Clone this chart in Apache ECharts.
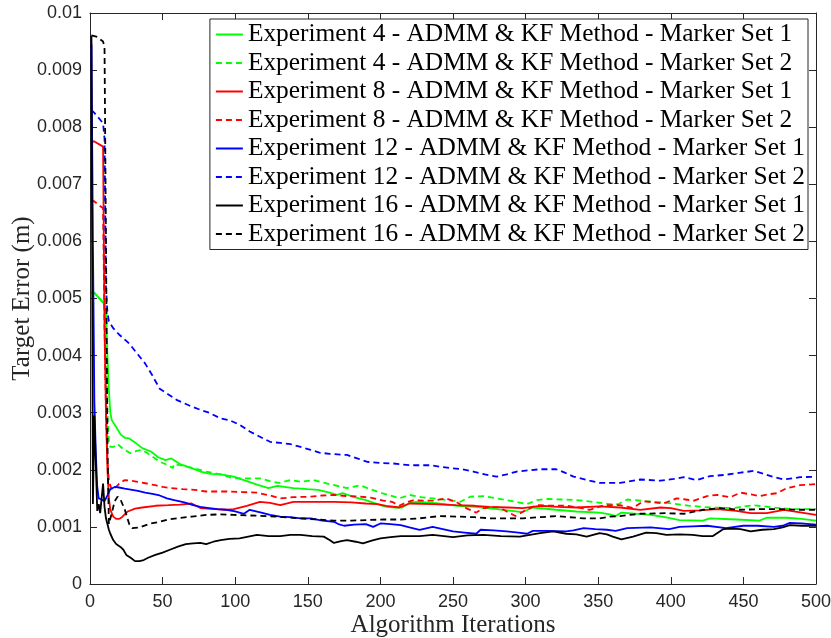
<!DOCTYPE html>
<html>
<head>
<meta charset="utf-8">
<script src="https://cdn.jsdelivr.net/npm/echarts@6/dist/echarts.min.js"></script>
<style>
  html, body { margin: 0; padding: 0; background: #ffffff; }
  #chart { width: 831px; height: 638px; }
</style>
</head>
<body>
<div id="chart"></div>
<script>
// Target error (m) against algorithm iteration, [iteration, error] pairs per run.
const exp4Set1 = [[1,0.00510],[3,0.00510],[10,0.00490],[11,0.00480],[12,0.00400],[13,0.00340],[14,0.00300],[15,0.00287],[18,0.00275],[21,0.00262],[24,0.00256],[27,0.00255],[31,0.00248],[36,0.00238],[42,0.00232],[47,0.00222],[52,0.00217],[56,0.00220],[62,0.00210],[70,0.00203],[76,0.00197],[83,0.00193],[90,0.00192],[99,0.00188],[106,0.00182],[115,0.00174],[123,0.00168],[129,0.00172],[140,0.00168],[150,0.00166],[157,0.00165],[165,0.00160],[170,0.00156],[174,0.00159],[182,0.00152],[190,0.00147],[198,0.00140],[204,0.00135],[210,0.00134],[215,0.00134],[221,0.00143],[227,0.00144],[240,0.00141],[253,0.00137],[265,0.00135],[280,0.00131],[298,0.00126],[305,0.00134],[321,0.00130],[335,0.00127],[351,0.00125],[358,0.00122],[362,0.00119],[366,0.00125],[386,0.00121],[396,0.00117],[406,0.00112],[422,0.00111],[427,0.00115],[445,0.00113],[461,0.00111],[466,0.00116],[480,0.00116],[490,0.00114],[500,0.00111]];

const exp4Set2 = [[1,0.00510],[3,0.00510],[10,0.00490],[11,0.00460],[12,0.00300],[13,0.00250],[14,0.00240],[16,0.00240],[19,0.00245],[23,0.00236],[28,0.00229],[32,0.00233],[36,0.00235],[42,0.00225],[48,0.00214],[54,0.00208],[57,0.00203],[58,0.00210],[64,0.00207],[71,0.00203],[80,0.00197],[88,0.00193],[99,0.00185],[108,0.00185],[117,0.00185],[124,0.00180],[130,0.00177],[138,0.00182],[145,0.00179],[154,0.00182],[165,0.00175],[177,0.00168],[186,0.00173],[193,0.00166],[201,0.00159],[207,0.00155],[213,0.00150],[220,0.00156],[228,0.00152],[236,0.00150],[246,0.00147],[255,0.00144],[262,0.00153],[271,0.00154],[280,0.00150],[287,0.00147],[295,0.00143],[301,0.00140],[308,0.00147],[315,0.00149],[325,0.00148],[335,0.00147],[346,0.00144],[358,0.00140],[364,0.00140],[370,0.00148],[383,0.00145],[397,0.00142],[413,0.00137],[427,0.00134],[443,0.00133],[457,0.00138],[471,0.00134],[484,0.00131],[500,0.00131]];

const exp8Set1 = [[1,0.00775],[3,0.00775],[9,0.00766],[10,0.00450],[11,0.00300],[12,0.00200],[13,0.00150],[14,0.00130],[16,0.00118],[18,0.00114],[20,0.00114],[22,0.00117],[26,0.00127],[31,0.00132],[36,0.00134],[45,0.00137],[54,0.00138],[62,0.00139],[70,0.00141],[76,0.00133],[86,0.00131],[94,0.00130],[99,0.00131],[108,0.00137],[117,0.00144],[124,0.00142],[131,0.00138],[140,0.00144],[155,0.00144],[168,0.00144],[180,0.00143],[190,0.00141],[198,0.00140],[204,0.00137],[213,0.00134],[220,0.00141],[236,0.00140],[252,0.00138],[265,0.00137],[275,0.00135],[288,0.00134],[298,0.00133],[310,0.00137],[322,0.00135],[335,0.00134],[351,0.00136],[365,0.00134],[379,0.00130],[393,0.00134],[400,0.00133],[409,0.00128],[420,0.00129],[432,0.00131],[445,0.00128],[455,0.00124],[466,0.00124],[478,0.00130],[488,0.00126],[500,0.00121]];

const exp8Set2 = [[1,0.00672],[3,0.00670],[9,0.00658],[10,0.00450],[11,0.00300],[12,0.00220],[13,0.00180],[15,0.00165],[18,0.00170],[21,0.00178],[24,0.00182],[28,0.00181],[33,0.00179],[39,0.00176],[45,0.00173],[50,0.00170],[56,0.00168],[64,0.00166],[72,0.00165],[80,0.00162],[94,0.00162],[105,0.00161],[115,0.00160],[124,0.00155],[131,0.00150],[140,0.00152],[152,0.00153],[160,0.00155],[168,0.00156],[177,0.00154],[186,0.00153],[194,0.00151],[202,0.00146],[208,0.00144],[213,0.00137],[218,0.00143],[223,0.00147],[230,0.00146],[237,0.00146],[245,0.00150],[252,0.00144],[259,0.00133],[266,0.00125],[270,0.00132],[276,0.00135],[282,0.00134],[287,0.00127],[293,0.00119],[301,0.00131],[308,0.00138],[318,0.00137],[328,0.00137],[336,0.00134],[344,0.00130],[354,0.00138],[365,0.00138],[374,0.00133],[381,0.00145],[388,0.00143],[395,0.00141],[404,0.00150],[410,0.00148],[416,0.00146],[425,0.00154],[432,0.00156],[441,0.00152],[448,0.00160],[455,0.00157],[461,0.00154],[467,0.00157],[473,0.00159],[480,0.00168],[489,0.00173],[500,0.00175]];

const exp12Set1 = [[1,0.00945],[2,0.00600],[3,0.00320],[4,0.00230],[5,0.00170],[6,0.00150],[8,0.00148],[10,0.00145],[12,0.00155],[14,0.00166],[17,0.00170],[20,0.00169],[24,0.00167],[29,0.00165],[33,0.00163],[38,0.00160],[43,0.00158],[48,0.00155],[53,0.00150],[58,0.00147],[65,0.00143],[71,0.00138],[76,0.00135],[82,0.00133],[88,0.00131],[94,0.00130],[100,0.00127],[106,0.00123],[110,0.00130],[118,0.00125],[124,0.00121],[131,0.00118],[138,0.00117],[145,0.00115],[152,0.00115],[160,0.00111],[168,0.00109],[171,0.00105],[175,0.00102],[182,0.00104],[190,0.00105],[195,0.00100],[200,0.00106],[207,0.00105],[214,0.00103],[220,0.00099],[227,0.00095],[236,0.00100],[243,0.00096],[250,0.00092],[258,0.00090],[266,0.00088],[269,0.00095],[278,0.00094],[287,0.00092],[295,0.00090],[301,0.00088],[305,0.00093],[315,0.00093],[328,0.00092],[333,0.00094],[340,0.00098],[348,0.00096],[356,0.00095],[362,0.00093],[370,0.00098],[386,0.00099],[399,0.00096],[406,0.00100],[415,0.00101],[425,0.00102],[438,0.00098],[450,0.00102],[460,0.00102],[471,0.00100],[477,0.00102],[482,0.00107],[490,0.00106],[500,0.00104]];

const exp12Set2 = [[1,0.00830],[3,0.00825],[9,0.00807],[10,0.00780],[11,0.00520],[12,0.00475],[13,0.00460],[16,0.00448],[20,0.00437],[24,0.00428],[27,0.00421],[33,0.00402],[38,0.00386],[43,0.00365],[48,0.00342],[54,0.00332],[60,0.00322],[68,0.00313],[76,0.00305],[82,0.00300],[90,0.00290],[96,0.00287],[103,0.00279],[110,0.00267],[117,0.00258],[124,0.00249],[131,0.00247],[138,0.00245],[145,0.00240],[152,0.00235],[158,0.00230],[165,0.00228],[177,0.00226],[184,0.00220],[191,0.00214],[200,0.00212],[209,0.00211],[220,0.00208],[234,0.00208],[248,0.00203],[256,0.00201],[264,0.00197],[272,0.00192],[280,0.00188],[287,0.00192],[294,0.00197],[302,0.00199],[310,0.00201],[321,0.00201],[327,0.00195],[333,0.00188],[344,0.00181],[351,0.00177],[365,0.00177],[379,0.00183],[393,0.00181],[402,0.00184],[409,0.00187],[418,0.00182],[427,0.00189],[437,0.00191],[448,0.00195],[457,0.00198],[464,0.00193],[470,0.00188],[478,0.00183],[489,0.00187],[500,0.00188]];

const exp16Set1 = [[1,0.00960],[2,0.00140],[3,0.00295],[4,0.00210],[5,0.00128],[6,0.00140],[7,0.00124],[8,0.00150],[9,0.00176],[10,0.00135],[11,0.00115],[12,0.00105],[13,0.00095],[14,0.00088],[16,0.00077],[18,0.00070],[21,0.00065],[23,0.00060],[25,0.00051],[28,0.00046],[31,0.00040],[34,0.00040],[37,0.00042],[40,0.00046],[45,0.00051],[50,0.00055],[55,0.00060],[61,0.00066],[66,0.00070],[71,0.00071],[76,0.00072],[80,0.00070],[85,0.00074],[90,0.00077],[96,0.00079],[103,0.00080],[109,0.00083],[115,0.00086],[123,0.00084],[131,0.00084],[138,0.00086],[145,0.00086],[153,0.00084],[161,0.00083],[165,0.00077],[168,0.00072],[173,0.00075],[177,0.00077],[183,0.00074],[188,0.00071],[194,0.00076],[200,0.00080],[207,0.00082],[214,0.00084],[227,0.00084],[236,0.00086],[250,0.00082],[260,0.00085],[271,0.00086],[283,0.00084],[296,0.00083],[303,0.00086],[310,0.00089],[319,0.00092],[328,0.00088],[335,0.00087],[342,0.00083],[351,0.00089],[356,0.00087],[360,0.00083],[366,0.00078],[374,0.00083],[383,0.00090],[390,0.00089],[397,0.00086],[406,0.00087],[415,0.00086],[422,0.00084],[429,0.00084],[436,0.00096],[442,0.00097],[448,0.00096],[455,0.00092],[463,0.00095],[471,0.00096],[477,0.00099],[482,0.00103],[490,0.00102],[500,0.00102]];

const exp16Set2 = [[1,0.00961],[5,0.00958],[9,0.00950],[10,0.00940],[11,0.00600],[12,0.00250],[13,0.00105],[15,0.00124],[17,0.00145],[19,0.00153],[21,0.00148],[24,0.00130],[27,0.00105],[29,0.00098],[34,0.00099],[42,0.00106],[48,0.00109],[54,0.00113],[60,0.00115],[70,0.00118],[80,0.00121],[90,0.00122],[99,0.00121],[110,0.00120],[122,0.00119],[133,0.00117],[145,0.00115],[156,0.00113],[168,0.00111],[180,0.00111],[191,0.00112],[202,0.00113],[214,0.00113],[227,0.00115],[241,0.00119],[253,0.00118],[265,0.00117],[276,0.00115],[287,0.00115],[298,0.00115],[310,0.00117],[321,0.00119],[330,0.00117],[340,0.00115],[351,0.00115],[358,0.00118],[365,0.00119],[379,0.00123],[397,0.00124],[409,0.00123],[422,0.00130],[434,0.00133],[448,0.00130],[461,0.00131],[478,0.00131],[489,0.00130],[500,0.00130]];

const seriesNames = [
  'Experiment 4 - ADMM & KF Method - Marker Set 1',
  'Experiment 4 - ADMM & KF Method - Marker Set 2',
  'Experiment 8 - ADMM & KF Method - Marker Set 1',
  'Experiment 8 - ADMM & KF Method - Marker Set 2',
  'Experiment 12 - ADMM & KF Method - Marker Set 1',
  'Experiment 12 - ADMM & KF Method - Marker Set 2',
  'Experiment 16 - ADMM & KF Method - Marker Set 1',
  'Experiment 16 - ADMM & KF Method - Marker Set 2'
];
const seriesData = [exp4Set1, exp4Set2, exp8Set1, exp8Set2, exp12Set1, exp12Set2, exp16Set1, exp16Set2];
const seriesColors = ['#00ff00', '#00ff00', '#ff0000', '#ff0000', '#0000ff', '#0000ff', '#000000', '#000000'];
const seriesDashed = [false, true, false, true, false, true, false, true];

const xTicks = { min: 0, max: 500, interval: 50 };
const yTicks = { min: 0, max: 0.01, interval: 0.001 };

const axisColor = '#262626';
const tickFont = { fontFamily: 'Liberation Sans, Arial, sans-serif', fontSize: 18, color: axisColor };
const serifFont = 'Liberation Serif, Times New Roman, serif';

function yLabel(v) {
  if (Math.abs(v) < 1e-12) return '0';
  return String(+v.toFixed(3));
}

const chart = echarts.init(document.getElementById('chart'), null, { renderer: 'canvas' });

// Axis frame: all four sides drawn, ticks pointing inward.
const boxAxis = (pos) => ({
  position: pos,
  axisLine: { show: true, onZero: false, lineStyle: { color: axisColor, width: 1 } },
  axisTick: { show: true, inside: true, length: 7, lineStyle: { color: axisColor } },
  axisLabel: { show: false },
  splitLine: { show: false }
});

chart.setOption({
  animation: false,
  backgroundColor: '#ffffff',
  grid: { left: 90, right: 15, top: 13, bottom: 54, containLabel: false, outerBoundsMode: 'none' },
  legend: {
    orient: 'vertical',
    right: 23,
    top: 19,
    padding: [3, 3, 3, 5],
    itemWidth: 27,
    itemHeight: 25,
    itemGap: 3.5,
    backgroundColor: '#ffffff',
    borderColor: axisColor,
    borderWidth: 1,
    itemStyle: { opacity: 0 },
    textStyle: { fontFamily: serifFont, fontSize: 25.4, color: '#000000', lineHeight: 25 },
    data: seriesNames
  },
  xAxis: [
    Object.assign(boxAxis('bottom'), {
      type: 'value', min: xTicks.min, max: xTicks.max, interval: xTicks.interval,
      axisLabel: Object.assign({ show: true, margin: 9 }, tickFont),
      name: 'Algorithm Iterations',
      nameLocation: 'middle',
      nameGap: 29,
      nameMoveOverlap: false,
      nameTextStyle: { fontFamily: serifFont, fontSize: 25, color: axisColor }
    }),
    Object.assign(boxAxis('top'), {
      type: 'value', min: xTicks.min, max: xTicks.max, interval: xTicks.interval
    })
  ],
  yAxis: [
    Object.assign(boxAxis('left'), {
      type: 'value', min: yTicks.min, max: yTicks.max, interval: yTicks.interval,
      axisLabel: Object.assign({ show: true, margin: 8, formatter: yLabel }, tickFont),
      name: 'Target Error (m)',
      nameLocation: 'middle',
      nameGap: 55,
      nameMoveOverlap: false,
      nameTextStyle: { fontFamily: serifFont, fontSize: 25, color: axisColor }
    }),
    Object.assign(boxAxis('right'), {
      type: 'value', min: yTicks.min, max: yTicks.max, interval: yTicks.interval
    })
  ],
  series: seriesData.map((d, i) => ({
    name: seriesNames[i],
    type: 'line',
    data: d,
    xAxisIndex: 0,
    yAxisIndex: 0,
    showSymbol: false,
    symbol: 'none',
    smooth: false,
    clip: true,
    color: seriesColors[i],
    lineStyle: {
      color: seriesColors[i],
      width: 1.8,
      type: seriesDashed[i] ? [6, 4] : 'solid'
    },
    z: 2 + i
  }))
});
</script>
</body>
</html>
